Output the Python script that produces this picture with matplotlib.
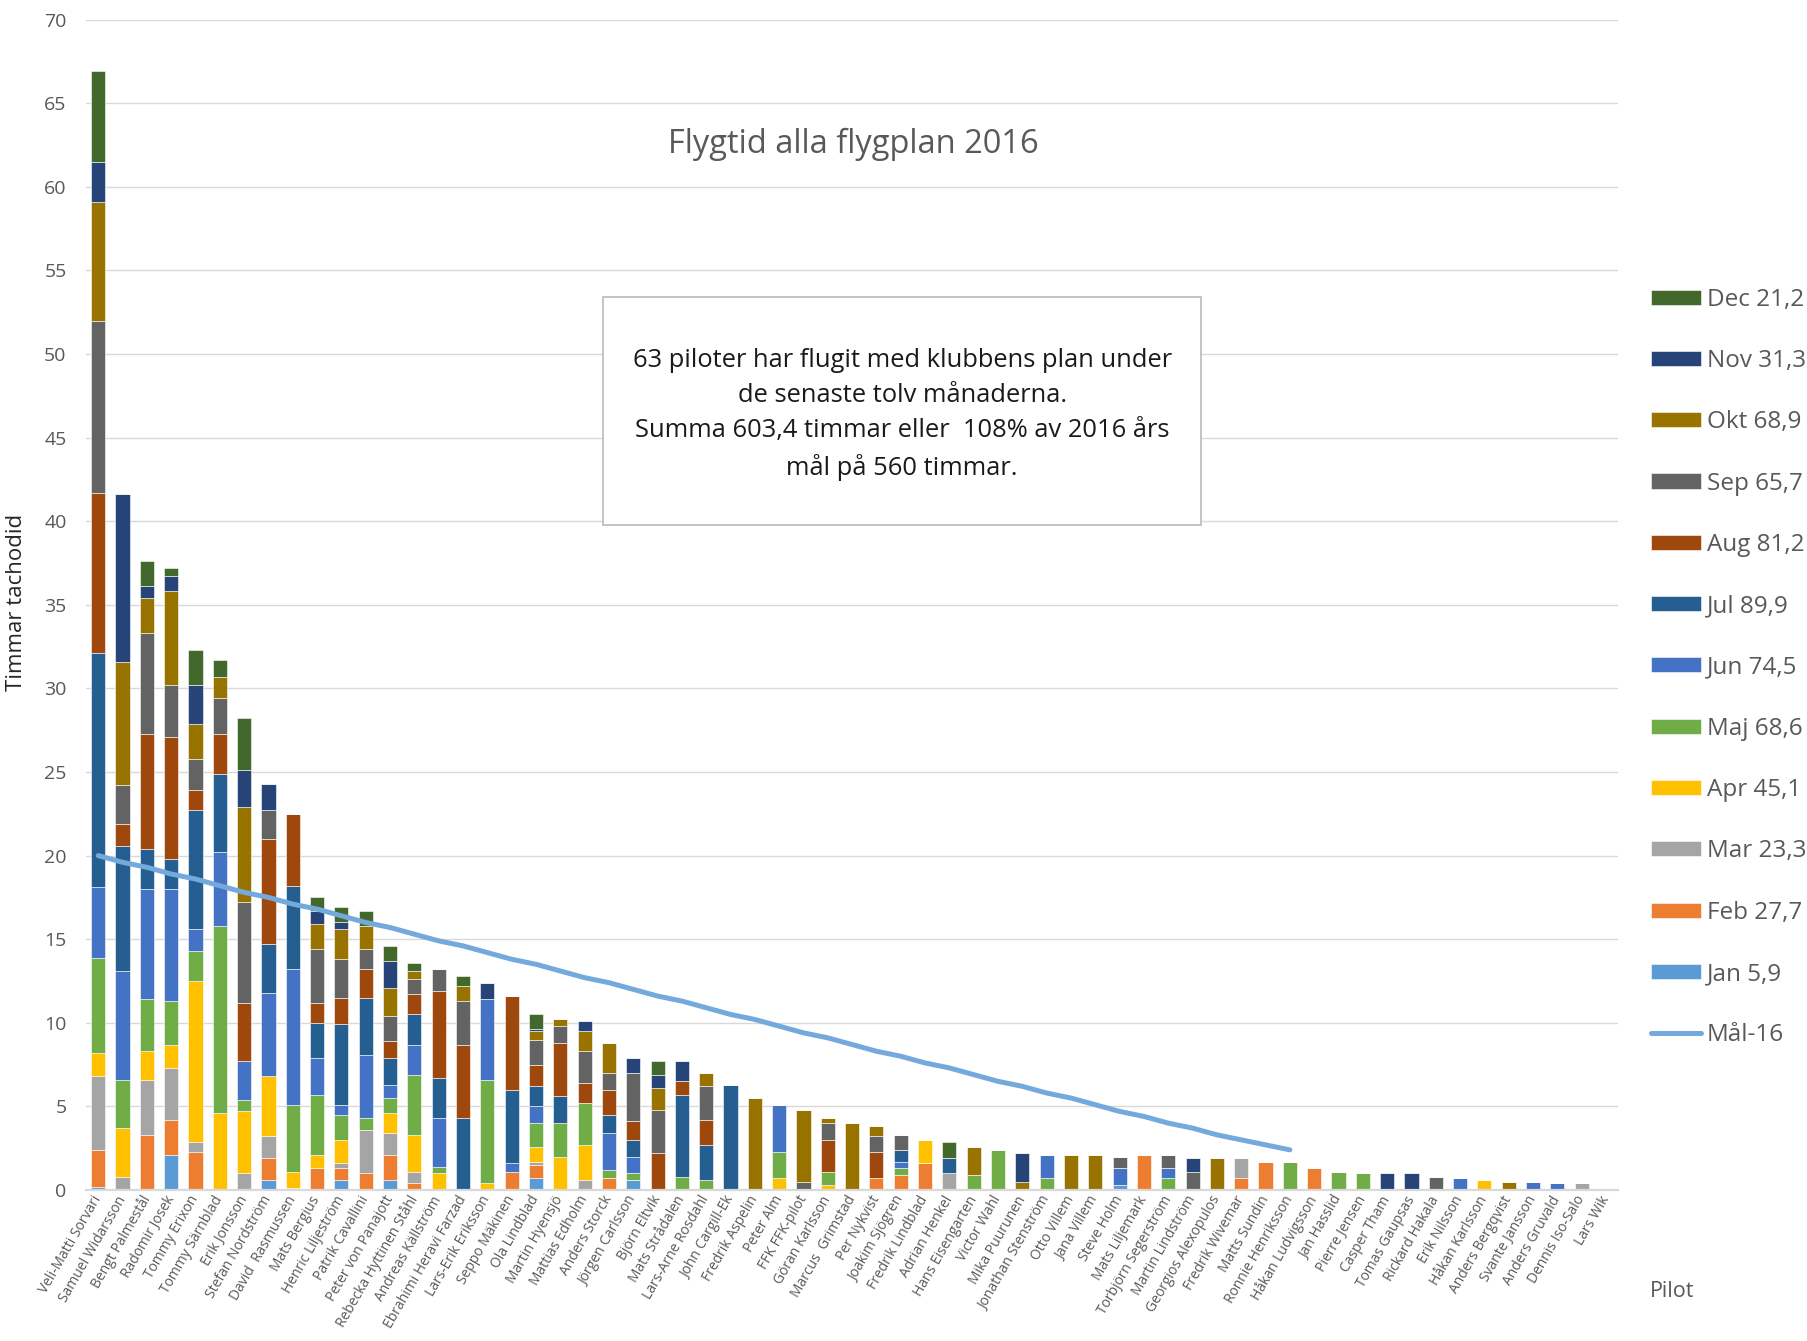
import numpy as np
import matplotlib.pyplot as plt
from matplotlib.patches import Rectangle

plt.rcParams['font.family'] = ['Open Sans', 'DejaVu Sans']

pilots = ["Veli-Matti Sorvari", "Samuel Widarsson", "Bengt Palmestål", "Radomir Josek",
          "Tommy Erixon", "Tommy Särnblad", "Erik Jonsson", "Stefan Nordström",
          "David  Rasmussen", "Mats Bergius", "Henric Liljeström", "Patrik Cavallini",
          "Peter von Panajott", "Rebecka Hyttinen Ståhl", "Andreas Källström",
          "Ebrahimi Heravi Farzad", "Lars-Erik Eriksson", "Seppo Mäkinen", "Ola Lindblad",
          "Martin Hyensjö", "Mattias Edholm", "Anders Storck", "Jörgen Carlsson",
          "Björn Eltvik", "Mats Strådalen", "Lars-Arne Rosdahl", "John Cargill-Ek",
          "Fredrik Aspelin", "Peter Alm", "FFK FFK-pilot", "Göran Karlsson",
          "Marcus  Grimstad", "Per Nykvist", "Joakim Sjögren", "Fredrik Lindblad",
          "Adrian Henkel", "Hans Eisengarten", "Victor Wahl", "Mika Puurunen",
          "Jonathan Stenström", "Otto Villem", "Jana Villem", "Steve Holm",
          "Mats Liljemark", "Torbjörn Segerström", "Martin Lindström",
          "Georgios Alexopulos", "Fredrik Wivemar", "Matts Sundin", "Ronnie Henriksson",
          "Håkan Ludvigsson", "Jan Hasslid", "Pierre Jensen", "Casper Tham",
          "Tomas Gaupsas", "Rickard Hakala", "Erik Nilsson", "Håkan Karlsson",
          "Anders Bergqvist", "Svante Jansson", "Anders Gruvald", "Dennis Iso-Salo",
          "Lars Wik"]

months = ['Jan', 'Feb', 'Mar', 'Apr', 'Maj', 'Jun', 'Jul', 'Aug', 'Sep', 'Okt', 'Nov', 'Dec']
month_totals = [5.9, 27.7, 23.3, 45.1, 68.6, 74.5, 89.9, 81.2, 65.7, 68.9, 31.3, 21.2]
colors = ['#5B9BD5', '#ED7D31', '#A5A5A5', '#FFC000', '#70AD47', '#4472C4',
          '#255E91', '#9E480E', '#636363', '#997300', '#264478', '#43682B']

# timmar per pilot och månad (avläst)
jan = [0.2, 0, 0, 2.1, 0, 0, 0, 0.6, 0, 0,
       0.6, 0, 0.6, 0, 0, 0, 0, 0, 0.7, 0,
       0, 0, 0.6, 0, 0, 0, 0, 0, 0, 0,
       0, 0, 0, 0, 0, 0, 0, 0, 0, 0,
       0, 0, 0.3, 0, 0, 0, 0, 0, 0, 0,
       0, 0, 0, 0, 0, 0, 0, 0, 0, 0,
       0, 0, 0]
feb = [2.2, 0, 3.3, 2.1, 2.3, 0, 0, 1.3, 0, 1.3,
       0.7, 1.0, 1.5, 0.4, 0, 0, 0, 1.1, 0.8, 0,
       0, 0.7, 0, 0, 0, 0, 0, 0, 0, 0,
       0, 0, 0.7, 0.9, 1.6, 0, 0, 0, 0, 0,
       0, 0, 0, 2.1, 0, 0, 0, 0.7, 1.7, 0,
       1.3, 0, 0, 0, 0, 0, 0, 0, 0, 0,
       0, 0, 0]
mar = [4.4, 0.8, 3.3, 3.1, 0.6, 0, 1.0, 1.3, 0.1, 0,
       0.3, 2.6, 1.3, 0.7, 0, 0, 0, 0, 0.2, 0,
       0.6, 0, 0, 0, 0, 0, 0, 0, 0, 0,
       0, 0, 0, 0, 0, 1.0, 0, 0, 0, 0,
       0, 0, 0, 0, 0, 0, 0, 1.2, 0, 0,
       0, 0, 0, 0, 0, 0, 0, 0, 0, 0,
       0, 0.4, 0]
apr = [1.4, 2.9, 1.7, 1.4, 9.6, 4.6, 3.7, 3.6, 1.0, 0.8,
       1.4, 0, 1.2, 2.2, 1.0, 0, 0.4, 0, 0.9, 2.0,
       2.1, 0, 0, 0, 0, 0, 0, 0, 0.7, 0,
       0.3, 0, 0, 0, 1.4, 0, 0, 0, 0, 0,
       0, 0, 0, 0, 0, 0, 0, 0, 0, 0,
       0, 0, 0, 0, 0, 0, 0, 0.6, 0, 0,
       0, 0, 0]
maj = [5.7, 2.9, 3.1, 2.6, 1.8, 11.2, 0.7, 0, 4.0, 3.6,
       1.5, 0.7, 0.9, 3.6, 0.4, 0, 6.2, 0, 1.4, 2.0,
       2.5, 0.5, 0.4, 0, 0.8, 0.6, 0, 0, 1.6, 0,
       0.8, 0, 0, 0.4, 0, 0, 0.9, 2.4, 0, 0.7,
       0, 0, 0, 0, 0.7, 0, 0, 0, 0, 1.7,
       0, 1.1, 1.0, 0, 0, 0, 0, 0, 0, 0,
       0, 0, 0]
jun = [4.2, 6.5, 6.6, 6.7, 1.3, 4.4, 2.3, 5.0, 8.1, 2.2,
       0.6, 3.8, 0.8, 1.8, 2.9, 0, 4.8, 0.5, 1.0, 0,
       0, 2.2, 1.0, 0, 0, 0, 0, 0, 2.8, 0,
       0, 0, 0, 0.4, 0, 0, 0, 0, 0, 1.4,
       0, 0, 1.0, 0, 0.6, 0, 0, 0, 0, 0,
       0, 0, 0, 0, 0, 0, 0.7, 0, 0, 0.5,
       0.4, 0, 0]
jul = [14.0, 7.5, 2.4, 1.8, 7.1, 4.7, 0, 2.9, 5.0, 2.1,
       4.8, 3.4, 1.6, 1.8, 2.4, 4.3, 0, 4.4, 1.2, 1.6,
       0, 1.1, 1.0, 0, 4.9, 2.1, 6.3, 0, 0, 0,
       0, 0, 0, 0.7, 0, 0.9, 0, 0, 0, 0,
       0, 0, 0, 0, 0, 0, 0, 0, 0, 0,
       0, 0, 0, 0, 0, 0, 0, 0, 0, 0,
       0, 0, 0]
aug = [9.6, 1.3, 6.9, 7.3, 1.2, 2.4, 3.5, 6.3, 4.3, 1.2,
       1.6, 1.7, 1.0, 1.2, 5.2, 4.4, 0, 5.6, 1.3, 3.2,
       1.2, 1.5, 1.1, 2.2, 0.8, 1.5, 0, 0, 0, 0,
       1.9, 0, 1.6, 0, 0, 0, 0, 0, 0, 0,
       0, 0, 0, 0, 0, 0, 0, 0, 0, 0,
       0, 0, 0, 0, 0, 0, 0, 0, 0, 0,
       0, 0, 0.14]
sep = [10.3, 2.3, 6.0, 3.1, 1.9, 2.1, 6.0, 1.7, 0, 3.2,
       2.3, 1.2, 1.5, 0.9, 1.3, 2.6, 0, 0, 1.5, 1.0,
       1.9, 1.0, 2.9, 2.6, 0, 2.0, 0, 0, 0, 0.5,
       1.0, 0, 0.9, 0.9, 0, 0, 0, 0, 0, 0,
       0, 0, 0.7, 0, 0.8, 1.1, 0, 0, 0, 0,
       0, 0, 0, 0, 0, 0.8, 0, 0, 0, 0,
       0, 0, 0]
okt = [7.1, 7.4, 2.1, 5.6, 2.1, 1.3, 5.7, 0, 0, 1.5,
       1.8, 1.4, 1.7, 0.5, 0, 0.9, 0, 0, 0.5, 0.4,
       1.2, 1.8, 0, 1.3, 0, 0.8, 0, 5.5, 0, 4.3,
       0.3, 4.0, 0.6, 0, 0, 0, 1.7, 0, 0.5, 0,
       2.1, 2.1, 0, 0, 0, 0, 1.9, 0, 0, 0,
       0, 0, 0, 0, 0, 0, 0, 0, 0.5, 0,
       0, 0, 0]
nov = [2.4, 10.0, 0.7, 0.9, 2.3, 0, 2.2, 1.6, 0, 0.8,
       0.4, 0, 1.6, 0, 0, 0, 1.0, 0, 0.1, 0,
       0.6, 0, 0.9, 0.8, 1.2, 0, 0, 0, 0, 0,
       0, 0, 0, 0, 0, 0, 0, 0, 1.7, 0,
       0, 0, 0, 0, 0, 0.8, 0, 0, 0, 0,
       0, 0, 0, 1.0, 1.0, 0, 0, 0, 0, 0,
       0, 0, 0]
dec = [5.4, 0, 1.5, 0.5, 2.1, 1.0, 3.1, 0, 0, 0.8,
       0.9, 0.9, 0.9, 0.5, 0, 0.6, 0, 0, 0.9, 0,
       0, 0, 0, 0.8, 0, 0, 0, 0, 0, 0,
       0, 0, 0, 0, 0, 1.0, 0, 0, 0, 0,
       0, 0, 0, 0, 0, 0, 0, 0, 0, 0,
       0, 0, 0, 0, 0, 0, 0, 0, 0, 0,
       0, 0, 0]
series = [jan, feb, mar, apr, maj, jun, jul, aug, sep, okt, nov, dec]

# mål-16 per pilot
mal16 = [20.0, 19.6, 19.3, 18.9, 18.6, 18.2, 17.8, 17.5, 17.1, 16.8,
         16.4, 16.0, 15.7, 15.3, 14.9, 14.6, 14.2, 13.8, 13.5, 13.1,
         12.7, 12.4, 12.0, 11.6, 11.3, 10.9, 10.5, 10.2, 9.8, 9.4,
         9.1, 8.7, 8.3, 8.0, 7.6, 7.3, 6.9, 6.5, 6.2, 5.8,
         5.5, 5.1, 4.7, 4.4, 4.0, 3.7, 3.3, 3.0, 2.7, 2.4]

grey = '#595959'
fig = plt.figure(figsize=(18.08, 13.41), dpi=100)
ax = fig.add_axes([0.0476, 0.1126, 0.8474, 0.8728])

x = np.arange(len(pilots))
bottom = np.zeros(len(pilots))
bars = []
for m, vals, col in zip(months, series, colors):
    b = ax.bar(x, vals, 0.58, bottom=bottom, color=col, edgecolor='white', linewidth=0.4, zorder=2)
    bars.append(b)
    bottom += np.array(vals)
line, = ax.plot(np.arange(len(mal16)), mal16, color='#74A9DB', lw=3.6,
                solid_capstyle='round', zorder=3)

ax.set_xlim(-0.5, len(pilots) - 0.5)
ax.set_ylim(0, 70)
ax.set_yticks(range(0, 71, 5))
ax.yaxis.grid(True, color='#D9D9D9', lw=1.0, zorder=0)
ax.set_axisbelow(True)
for s in ['top', 'right', 'left']:
    ax.spines[s].set_visible(False)
ax.spines['bottom'].set_color('#D9D9D9')
ax.spines['bottom'].set_linewidth(1.6)
ax.tick_params(axis='both', length=0, colors=grey)
ax.tick_params(axis='y', labelsize=14, pad=14)
ax.set_xticks(x)
ax.set_xticklabels(pilots, rotation=60, ha='right', va='center',
                   rotation_mode='anchor', fontsize=10, color=grey)
ax.tick_params(axis='x', pad=5)

fig.text(0.0094, 0.551, 'Timmar tachodid', rotation=90, ha='center', va='center',
         fontsize=16, color='#262626')
fig.text(0.472, 0.8925, 'Flygtid alla flygplan 2016', ha='center', va='center',
         fontsize=23.5, color=grey)
fig.text(0.925, 0.037, 'Pilot', ha='center', va='center', fontsize=15.5, color=grey)

# textruta
fig.add_artist(Rectangle((603 / 1808, 1 - 525 / 1341), 598 / 1808, 228 / 1341,
                         transform=fig.transFigure, facecolor='white',
                         edgecolor='#BFBFBF', lw=1.3, zorder=5))
info = ("63 piloter har flugit med klubbens plan under\n"
        "de senaste tolv månaderna.\n"
        "Summa 603,4 timmar eller  108% av 2016 års\n"
        "mål på 560 timmar.")
fig.text(0.499, 0.691, info, ha='center', va='center', fontsize=18.4,
         color='#1A1A1A', linespacing=1.52, zorder=6)

labels = [f"{m} {str(t).replace('.', ',')}" for m, t in zip(months, month_totals)]
handles = bars[::-1] + [line]
leg_labels = labels[::-1] + ['Mål-16']
fig.legend(handles, leg_labels, loc='upper left', bbox_to_anchor=(0.913, 0.7855),
           bbox_transform=fig.transFigure, frameon=False, fontsize=17.5,
           labelspacing=1.535, handlelength=2.06, handleheight=0.58, handletextpad=0.25,
           borderpad=0, borderaxespad=0, labelcolor=grey)

fig.savefig('out.png', dpi=100)
